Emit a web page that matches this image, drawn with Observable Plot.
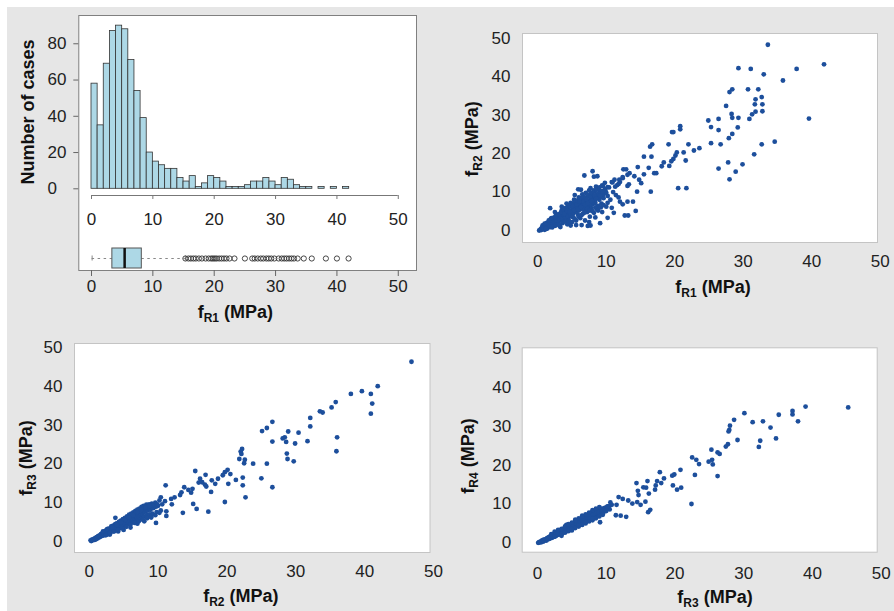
<!DOCTYPE html>
<html><head><meta charset="utf-8">
<script src="https://cdn.jsdelivr.net/npm/d3@7"></script>
<script src="https://cdn.jsdelivr.net/npm/@observablehq/plot@0.6"></script>
<style>
html,body{margin:0;padding:0;background:#fff;}
#page{position:relative;width:894px;height:611px;overflow:hidden;font-family:"Liberation Sans",Arial,sans-serif;}
#bg{position:absolute;left:7px;top:7px;right:0;bottom:0;background:#e6e6e6;}
#page svg{position:absolute;left:0;top:0;}
.t{position:absolute;font-weight:bold;font-size:18px;line-height:1;color:#111;white-space:nowrap;transform:translate(-50%,-50%);}
.t.v{transform:translate(-50%,-50%) rotate(-90deg);}
.t sub{font-size:12px;vertical-align:-4px;line-height:0;}
</style></head>
<body><div id="page"><div id="bg"></div></div>
<script>
// ---------- data ----------
const axisTicks = [0, 10, 20, 30, 40, 50];
const histYTicks = [0, 20, 40, 60, 80];
// histogram of fR1, 1 MPa bins starting at 0
const histCounts = [58,35,69,87,90,88,71,54,39,20,15,13,11,11,6,4,7,1,3,7,6,4,1,1,1,2,4,4,6,4,2,6,5,2,1,1,0,1,0,1,0,1];
// boxplot of fR1: lower whisker, Q1, median, Q3, upper whisker
const boxStats = [0.1, 3.4, 5.4, 8.2, 15.3];
const boxOutliers = [15.3,15.8,16.2,16.6,17.0,17.5,18.0,18.6,19.1,19.5,19.8,20.1,20.4,20.8,21.2,21.6,22.0,22.5,23.3,25.0,26.2,26.6,27.1,27.6,28.0,28.5,28.9,29.3,29.8,30.5,31.0,31.4,31.8,32.2,32.6,33.0,33.6,34.6,35.9,38.2,40.0,41.9];

// fR1 (x) vs fR2 (y)
const fr1fr2Dense = [[0.2,0.0],[0.4,0.3],[0.5,0.1],[0.6,0.6],[0.8,0.4],[0.9,1.0],[1.0,0.2],[0.7,1.3],
[1.1,0.7],[1.2,1.4],[1.3,2.0],[1.4,0.5],[1.5,1.1],[1.6,1.7],[1.7,2.4],[1.8,0.9],[1.9,1.5],[1.8,5.8],[1.9,3.0],[2.0,2.1],
[2.1,0.8],[2.2,1.6],[2.3,2.6],[2.4,3.4],[2.5,1.2],[2.6,2.0],[2.7,4.2],[2.8,3.0],[2.9,1.6],[3.0,2.4],[2.5,4.8],
[3.1,3.6],[3.2,1.2],[3.3,4.4],[3.4,2.8],[3.5,5.3],[3.6,1.9],[3.7,3.4],[3.8,4.6],[3.9,2.5],[4.0,5.8],[3.5,6.2],[3.3,0.9],
[4.1,3.2],[4.2,4.4],[4.3,1.6],[4.4,6.6],[4.5,2.8],[4.6,5.2],[4.7,3.8],[4.8,7.2],[4.9,4.6],[5.0,2.2],[4.5,6.0],[4.2,7.0],[4.8,1.3],
[5.1,5.8],[5.2,3.4],[5.3,8.0],[5.4,4.8],[5.5,6.6],[5.6,2.6],[5.7,7.4],[5.8,5.2],[5.9,4.0],[6.0,8.6],[5.4,9.2],[5.6,1.4],[5.2,7.0],[5.8,6.2],
[6.1,6.8],[6.2,3.2],[6.3,7.8],[6.4,5.6],[6.5,9.4],[6.6,4.4],[6.7,8.2],[6.8,6.2],[6.9,2.6],[7.0,9.8],[6.4,1.4],[6.3,10.6],[6.6,7.2],[6.9,5.0],
[7.1,7.4],[7.2,4.8],[7.3,8.8],[7.4,6.4],[7.5,10.4],[7.6,3.6],[7.7,8.0],[7.8,5.8],[7.9,9.4],[8.0,6.8],[7.3,1.2],[7.7,11.0],[7.5,2.2],
[8.1,8.2],[8.2,4.6],[8.3,10.2],[8.4,7.2],[8.5,11.4],[8.6,5.6],[8.7,9.0],[8.8,6.4],[8.9,10.8],[9.0,8.0],[8.4,3.4],
[9.2,9.6],[9.3,7.0],[9.5,11.6],[9.6,8.4],[9.8,12.4],[9.9,10.2],[10.0,6.2],[9.4,4.8],
[10.2,9.0],[10.4,11.2],[10.6,8.0],[10.8,12.6],[11.0,10.0],[11.2,13.2],[11.4,9.2],[11.6,11.8],[12.0,12.6],[12.4,13.6],[11.8,8.6],
[0.5,0.5],[0.7,0.8],[0.9,0.6],[1.1,1.3],[1.3,1.0],[1.5,1.5],[1.7,1.2],[1.9,2.0],[2.1,1.9],[2.2,2.4],[2.4,2.2],[2.6,2.8],[2.8,2.4],[3.0,3.2],[3.2,2.9],[3.4,3.6],[3.6,3.0],[3.8,4.0],[4.0,3.5],[4.2,4.2],[4.4,3.8],[4.6,4.6],[4.8,4.0],[5.0,5.0],[5.2,4.4],[5.4,5.6],[5.6,4.8],[5.8,6.0],[6.0,5.2],[6.2,6.4],[6.4,5.8],[6.6,6.8],[6.8,6.0],[7.0,7.2],[7.2,6.4],[7.4,7.6],[7.6,6.8],[7.8,8.2],[8.0,7.4],[8.2,8.8],[8.4,8.0],[8.6,9.4],[8.8,8.6],[9.0,9.8],[9.2,8.8],[9.4,10.2],[9.6,9.4],[9.8,10.8],[10.0,9.8],
[1.0,1.8],[1.6,2.6],[2.0,3.2],[2.6,3.6],[3.0,4.2],[3.4,4.8],[3.8,5.4],[4.2,5.8],[4.6,6.4],[5.0,6.8],[5.4,7.4],[5.8,7.8],[6.2,8.4],[6.6,8.8],[7.0,8.6],[7.4,9.2],[7.8,9.8],[8.2,10.4],[8.6,10.6],[9.0,11.2],
[1.2,0.4],[2.0,1.0],[2.6,1.4],[3.0,1.6],[3.6,2.2],[4.0,2.4],[4.6,2.2],[5.0,3.6],[5.4,3.0],[6.0,3.6],[6.4,4.0],[6.8,4.6],[7.2,5.6],[7.6,5.2],[8.0,5.0],[8.4,6.0],[8.8,5.2],[9.2,6.0],[9.6,6.6],[10.2,7.2],
[3.9,4.3],[4.3,5.1],[4.7,4.9],[5.1,6.3],[5.3,5.3],[5.7,6.7],[5.9,5.5],[6.1,7.5],[6.3,6.1],[6.7,7.5],[6.9,6.7],[7.1,8.1],[7.3,7.1],[7.7,8.7],[7.9,7.7],[8.3,9.1],[8.5,8.3],[8.9,9.5],[9.1,9.1],[9.5,10.1]];
const fr1fr2Sparse = [[33.6,48.3],[29.3,42.2],[31.1,42.0],[33.0,40.6],[37.8,42.0],[41.8,43.2],[35.8,39.0],[28.4,36.7],[28.0,36.0],[30.7,36.7],[32.2,36.7],[32.7,34.7],[31.8,34.1],[32.8,32.8],[31.7,32.8],[27.5,32.4],[32.8,31.0],[31.8,30.9],[28.3,30.3],[28.4,29.3],[29.3,29.3],[31.3,30.2],[30.9,29.0],[39.6,29.1],[24.9,28.6],[26.4,29.0],[25.3,26.9],[26.4,26.1],[29.2,26.8],[28.4,25.1],[27.9,24.0],[25.3,22.7],[26.7,22.4],[32.7,22.4],[34.6,23.1],[31.6,19.8],[29.9,17.2],[27.8,17.7],[26.4,16.1],[28.9,15.3],[28.0,13.3],
[20.8,27.1],[20.8,26.3],[19.6,25.6],[19.8,25.6],[19.1,22.4],[22.0,22.4],[23.6,21.4],[22.8,20.8],[16.7,22.4],[16.4,21.8],[15.5,19.2],[16.6,19.2],[20.3,20.3],[20.1,19.5],[19.8,18.6],[19.5,18.0],[21.3,20.3],[21.6,18.2],[18.4,17.7],[18.1,16.7],[19.2,16.8],[16.2,16.3],[17.0,14.9],[17.3,14.9],[20.5,11.0],[21.7,11.0],[16.5,10.1],
[12.5,15.9],[12.9,15.9],[14.6,16.5],[13.1,14.5],[13.4,14.9],[14.1,14.1],[15.5,14.6],[14.8,13.2],[15.1,12.3],[13.1,11.6],[13.3,12.0],[14.5,10.1],[13.1,7.5],[13.9,7.5],[14.3,5.1],[12.7,3.9],[13.2,3.9],[10.8,5.9],[11.1,4.6],[12.0,7.5],[12.4,6.8],[10.2,3.3],[9.1,1.9],[7.7,1.3],[6.8,14.3],[8.0,15.4],[8.7,14.1],[8.2,14.0],[5.9,10.7],[11.9,13.2],[11.8,12.1],[10.9,12.5],[11.3,11.4],[9.4,11.7],[10.2,11.3],[12.4,13.9]];

// fR2 (x) vs fR3 (y)
const fr2fr3Dense = [[0.3,0.1],[0.5,0.3],[0.6,0.6],[0.8,0.4],[0.9,0.9],[1.0,0.6],[1.1,1.1],[1.2,0.8],[1.3,1.4],[1.4,1.0],[1.5,1.6],[1.6,1.2],[1.7,1.9],[1.8,1.4],[1.9,2.1],[2.0,1.5],[2.1,2.4],[2.2,1.8],[2.3,2.7],[2.4,2.0],[2.5,2.9],[2.6,1.8],[2.7,2.5],[2.8,3.3],[2.9,2.2],[3.0,3.0],[3.1,2.4],[3.2,3.6],[3.3,2.8],[3.4,4.0],[3.5,2.6],[3.6,3.4],[3.7,4.3],[3.8,2.9],[3.9,3.8],[4.0,4.7],[4.1,3.2],[4.2,4.2],[4.3,5.0],[4.4,3.4],[4.5,4.4],[4.6,5.4],[4.7,3.8],[4.8,4.8],[4.9,5.8],[5.0,4.0],[5.1,5.2],[5.2,6.1],[5.3,4.3],[5.4,5.5],[5.5,6.5],[5.6,4.4],[5.7,5.8],[5.8,6.9],[5.9,4.8],[6.0,6.1],[6.1,7.2],[6.2,5.0],[6.3,6.4],[6.4,7.5],[6.5,5.2],[6.6,6.6],[6.7,7.9],[6.8,5.4],[6.9,7.0],[7.0,8.2],[7.1,5.8],[7.2,7.2],[7.3,8.5],[7.4,6.0],[7.5,7.5],[7.6,8.9],[7.7,6.2],[7.8,7.8],[7.9,9.2],[8.0,6.5],[8.2,8.2],[8.3,9.5],[8.4,6.8],[8.6,8.5],[8.7,9.6],[8.8,7.0],[9.0,8.6],[9.1,9.8],[9.2,7.2],[9.4,8.8],[9.6,10.0],[9.8,7.6],[10.0,9.2],[10.2,10.6],[10.4,8.0],[10.6,9.6],[11.0,10.4],[6.0,3.6],[7.0,4.6],[8.0,5.2],[5.0,3.0],[4.2,2.6],[9.0,6.4],[3.0,1.8],
[0.2,0.3],[0.4,0.5],[0.7,0.7],[0.9,0.7],[1.1,0.9],[1.3,1.2],[1.5,1.3],[1.7,1.6],[1.9,1.7],[2.1,2.0],[2.3,2.2],[2.5,2.4],[2.7,2.8],[2.9,2.7],[3.1,3.1],[3.3,3.3],[3.5,3.4],[3.7,3.6],[3.9,3.5],[4.1,4.0],[4.3,4.1],[4.5,4.2],[4.7,4.6],[4.9,4.5],[5.1,4.8],[5.3,5.0],[5.5,5.2],[5.7,5.4],[5.9,5.6],[6.1,5.8],[6.3,5.9],[6.5,6.2],[6.7,6.4],[6.9,6.4],[7.1,6.8],[7.3,6.9],[7.5,7.1],[7.7,7.3],[7.9,7.6],[8.1,7.7],[8.3,8.0],[8.5,8.0],[8.7,8.4],[8.9,8.2],[9.1,8.8],[9.3,8.6],[9.5,9.2],[9.7,9.0],[9.9,9.6],
[2.0,2.6],[2.6,3.2],[3.2,3.9],[3.8,4.5],[4.4,5.1],[5.0,5.7],[5.6,6.3],[6.2,6.8],[6.8,7.4],[7.4,7.9],[8.0,8.6],[8.6,9.1],[9.2,9.4],
[2.4,1.6],[3.0,2.2],[3.6,2.6],[4.2,3.0],[4.8,3.4],[5.4,3.8],[6.0,4.4],[6.6,4.8],[7.2,5.2],[7.8,5.6],[8.4,6.0],[9.0,6.2],[9.6,6.8],[10.2,7.4],
[5.2,5.6],[5.8,6.2],[6.4,6.8],[7.0,7.6],[7.6,8.2],[8.2,8.8],[8.8,9.2],[4.6,5.0],[4.0,4.3],[3.4,3.7]];
const fr2fr3Sparse = [[46.8,46.4],[41.9,40.1],[39.6,38.8],[38.0,38.1],[40.9,38.1],[41.1,35.6],[40.9,33.0],[35.8,36.0],[35.2,34.6],[33.9,33.3],[33.5,33.6],[32.1,31.9],[32.1,29.7],[31.7,25.9],[36.0,26.9],[35.9,23.3],[30.4,28.1],[28.9,28.4],[28.4,26.9],[28.1,26.6],[28.6,25.7],[29.9,25.3],[28.7,22.7],[28.8,21.3],[29.7,20.7],[26.6,30.9],[25.8,29.3],[25.1,28.5],[26.6,25.8],[25.8,20.1],[26.6,14.0],[25.0,16.3],
[22.2,23.9],[22.0,23.2],[22.1,22.6],[21.8,21.3],[22.6,21.1],[22.5,20.2],[23.8,20.1],[22.3,16.5],[22.3,14.5],[22.7,11.4],[20.1,18.5],[19.7,17.9],[20.5,17.4],[19.4,17.1],[21.3,15.9],[20.2,14.9],[19.7,10.2],[18.7,16.2],[18.3,14.9],[17.8,15.8],[17.7,12.8],[17.0,14.2],[16.8,14.7],[16.9,17.2],[15.4,18.2],[16.1,16.2],[15.9,15.2],[16.4,15.3],[15.0,13.6],[14.4,13.3],[14.8,12.6],[15.1,9.7],[15.6,8.4],[17.3,7.7],[13.6,7.4],[13.8,14.0],[13.4,12.7],[13.2,12.0],[11.1,14.5],[12.4,11.4],[11.9,11.0],[10.4,11.4],[3.8,6.1],[11.2,6.6],[11.2,7.8],[9.7,4.8],[12.0,9.6]];

// fR3 (x) vs fR4 (y)
const fr3fr4Dense = [[0.1,0],[0.3,0.2],[0.5,0.1],[0.6,0.5],[0.8,0.3],[0.9,0.8],[1.0,0.5],[1.2,0.9],[1.3,0.6],[1.4,1.2],[1.5,0.9],[1.6,1.4],[1.7,1.0],[1.8,1.6],[1.9,1.2],[2.0,1.8],[2.1,1.3],[2.2,2.0],[2.3,1.5],[2.4,2.2],[2.5,1.6],[2.6,2.4],[2.7,1.8],[2.8,2.6],[2.9,2.0],[3.0,2.8],[3.1,2.1],[3.2,3.0],[3.3,2.3],[3.4,3.2],[3.5,2.5],[3.6,3.4],[3.7,2.6],[3.8,3.6],[3.9,2.8],[4.0,3.7],[4.1,2.9],[4.2,3.9],[4.3,3.1],[4.4,4.1],[4.5,3.3],[4.6,4.3],[4.7,3.5],[4.8,4.5],[4.9,3.7],[5.0,4.7],[5.1,3.9],[5.2,4.9],[5.3,4.1],[5.4,5.1],[5.5,4.3],[5.6,5.3],[5.7,4.5],[5.8,5.6],[5.9,4.7],[6.0,5.8],[6.1,4.8],[6.2,6.0],[6.3,5.0],[6.4,6.2],[6.5,5.2],[6.6,6.4],[6.7,5.4],[6.8,6.6],[6.9,5.6],[7.0,6.8],[7.1,5.8],[7.2,7.0],[7.3,6.0],[7.4,7.2],[7.5,6.2],[7.6,7.4],[7.7,6.4],[7.8,7.6],[7.9,6.6],[8.0,7.9],[8.2,6.8],[8.3,8.1],[8.5,7.0],[8.6,8.3],[8.8,7.3],[9.0,8.5],[9.2,7.5],[9.4,8.8],[9.6,7.8],[9.8,9.0],[10.0,8.2],[10.2,9.3],[10.5,8.6],[10.8,9.8],[3.5,1.8],[5.0,3.2],[6.0,4.2],[7.0,5.0],[8.0,5.8],[4.2,4.6],[5.5,6.0],[6.5,7.0],[2.5,2.9],
[0.2,0.1],[0.4,0.3],[0.7,0.6],[0.9,0.6],[1.1,0.8],[1.3,1.0],[1.5,1.2],[1.7,1.4],[1.9,1.6],[2.1,1.7],[2.3,1.9],[2.5,2.1],[2.7,2.3],[2.9,2.4],[3.1,2.6],[3.3,2.8],[3.5,3.0],[3.7,3.1],[3.9,3.3],[4.1,3.5],[4.3,3.7],[4.5,3.8],[4.7,4.0],[4.9,4.2],[5.1,4.4],[5.3,4.5],[5.5,4.7],[5.7,4.9],[5.9,5.1],[6.1,5.3],[6.3,5.5],[6.5,5.7],[6.7,5.9],[6.9,6.1],[7.1,6.3],[7.3,6.5],[7.5,6.7],[7.7,6.9],[7.9,7.1],[8.1,7.3],[8.3,7.5],[8.5,7.7],[8.7,7.9],[8.9,8.0],[9.1,8.2],[9.3,8.4],[9.5,8.6],[9.7,8.8],[9.9,9.0],[10.1,9.1],[10.4,9.4],
[2.0,2.2],[3.0,3.3],[4.0,4.2],[5.0,5.2],[6.0,6.3],[7.0,7.3],[8.0,8.4],[9.0,9.2],[3.5,3.6],[4.5,4.8],[5.5,5.8],[6.5,6.7],[7.5,7.8],[8.5,8.8],
[2.5,1.6],[3.5,2.3],[4.5,3.0],[5.5,3.8],[6.5,4.6],[7.5,5.5],[8.5,6.3],[9.5,7.2],[4.0,2.6],[5.0,3.5],[6.0,4.5],[7.0,5.3],[8.0,6.2],[9.0,6.8]];
const fr3fr4Sparse = [[45.2,34.9],[39.0,35.1],[37.1,34.0],[37.1,33.1],[37.9,31.3],[35.1,33.0],[33.9,29.7],[34.7,26.9],[32.8,31.3],[31.3,31.1],[30.1,33.4],[32.4,26.3],[32.2,24.7],[29.1,26.5],[28.6,31.7],[28.0,30.2],[27.9,29.1],[27.8,28.7],[27.7,25.4],[27.4,24.8],[26.2,23.3],[26.5,22.9],[25.3,24.0],[26.2,17.2],[25.4,21.4],[24.9,20.9],[25.5,20.2],[22.5,22.0],[23.1,21.4],[23.5,20.3],[22.9,17.5],[22.4,10.0],[20.8,18.8],[19.9,17.6],[19.6,17.3],[20.3,13.7],[20.9,14.2],[19.7,14.8],[18.4,16.6],[17.8,18.2],[18.0,15.4],[17.4,15.9],[17.2,14.8],[17.1,13.7],[16.2,12.7],[16.1,7.9],[16.4,8.5],[16.0,15.9],[15.8,14.2],[15.4,14.3],[14.4,15.4],[14.6,13.4],[14.7,12.3],[15.7,10.6],[15.0,9.8],[14.5,10.5],[12.9,6.7],[12.1,7.0],[11.4,7.1],[9.1,5.3],[11.8,11.8],[12.4,11.3],[13.2,10.9],[13.8,10.1],[10.6,10.4],[10.2,9.4],[11.5,9.8]];

// ---------- drawing ----------
const page = document.getElementById("page");
const W = 894, H = 611;
const FONT = '"Liberation Sans", Arial, sans-serif';
function layer(opts) {
  const svg = Plot.plot({
    width: W, height: H,
    style: {background: "transparent", fontFamily: FONT, fontSize: "17px", color: "#222", overflow: "visible"},
    ...opts
  });
  page.appendChild(svg);
}
function title(html, x, y, vertical) {
  const d = document.createElement("div");
  d.className = "t" + (vertical ? " v" : "");
  d.style.left = x + "px"; d.style.top = y + "px";
  d.innerHTML = html;
  page.appendChild(d);
}

// histogram panel
const histX = [-2.07, 52.97];
const histData = histCounts.map((c, i) => ({x1: i, x2: i + 1, count: c}));
const panelM = {marginLeft: 78.3, marginRight: W - 416};
// frame + bottom axis
layer({...panelM, marginTop: 15, marginBottom: H - 270,
  x: {domain: histX, axis: null}, y: {domain: [0, 1], axis: null},
  marks: [
    Plot.frame({fill: "white", stroke: "#808080"}),
    Plot.axisX({ticks: axisTicks, tickSize: 6, tickPadding: 3, stroke: "#666", label: null})
  ]});
// bars + y axis
layer({...panelM, marginTop: 15, marginBottom: H - 188.3,
  x: {domain: histX, axis: null}, y: {domain: [0, 95.6], axis: null},
  marks: [
    Plot.rectY(histData, {x1: "x1", x2: "x2", y: "count", fill: "#add8e6", stroke: "#333", strokeWidth: 0.8}),
    Plot.axisY({ticks: histYTicks, tickSize: 5, tickPadding: 26.3, textAnchor: "start", stroke: "#666", label: null})
  ]});
// inner x axis
layer({...panelM, marginTop: 15, marginBottom: H - 195,
  x: {domain: histX, axis: null}, y: {domain: [0, 1], axis: null},
  marks: [
    Plot.ruleY([0], {x1: axisTicks[0], x2: axisTicks[axisTicks.length - 1], stroke: "#777"}),
    Plot.axisX({ticks: axisTicks, tickSize: 4, tickPadding: 13, stroke: "#777", label: null})
  ]});
// boxplot
layer({...panelM, marginTop: 247.5, marginBottom: H - 267.5,
  x: {domain: histX, axis: null}, y: {type: "band", domain: ["fR1"], padding: 0, axis: null},
  marks: [
    Plot.ruleY(["fR1"], {x1: boxStats[0], x2: boxStats[1], stroke: "#888", strokeDasharray: "2.5,3.5"}),
    Plot.ruleY(["fR1"], {x1: boxStats[3], x2: boxStats[4], stroke: "#888", strokeDasharray: "2.5,3.5"}),
    Plot.tickX([boxStats[0], boxStats[4]], {x: d => d, y: () => "fR1", insetTop: 7.5, insetBottom: 7.5, stroke: "#888"}),
    Plot.barX([boxStats], {x1: d => d[1], x2: d => d[3], y: () => "fR1", fill: "#add8e6", stroke: "#555"}),
    Plot.tickX([boxStats[2]], {x: d => d, y: () => "fR1", stroke: "#111", strokeWidth: 2.5}),
    Plot.dot(boxOutliers, {x: d => d, y: () => "fR1", r: 2.6, stroke: "#333", strokeWidth: 0.9, fill: "none"})
  ]});
title("Number of cases", 28.3, 111.7, true);
title("f<sub>R1</sub> (MPa)", 235.3, 312);

// scatter panels
function scatter(data, xd, yd, m, padX, padY) {
  layer({marginLeft: m[0], marginRight: W - m[1], marginTop: m[2], marginBottom: H - m[3],
    x: {domain: xd, axis: null}, y: {domain: yd, axis: null},
    marks: [
      Plot.frame({fill: "white", stroke: "#c4c4c4"}),
      Plot.dot(data, {x: d => d[0], y: d => d[1], r: 2.4, fill: "#1d4f9c"}),
      Plot.axisX({ticks: axisTicks, tickSize: 0, tickPadding: padX, label: null}),
      Plot.axisY({ticks: axisTicks, tickSize: 0, tickPadding: padY, label: null})
    ]});
}
scatter([...fr1fr2Dense, ...fr1fr2Sparse], [-2.234, 49.61], [-3.12, 51.22], [522, 877, 33, 242], 12, 12);
scatter([...fr2fr3Dense, ...fr2fr3Sparse], [-2.135, 49.49], [-2.84, 51.11], [74, 429.5, 343, 552], 12, 12);
scatter([...fr3fr4Dense, ...fr3fr4Sparse], [-2.226, 49.42], [-2.42, 50.26], [521.7, 876.7, 347.3, 551.7], 15, 11);

title("f<sub>R1</sub> (MPa)", 713, 287);
title("f<sub>R2</sub> (MPa)", 471.7, 139, true);
title("f<sub>R2</sub> (MPa)", 240.8, 596);
title("f<sub>R3</sub> (MPa)", 25.8, 458, true);
title("f<sub>R3</sub> (MPa)", 715, 597);
title("f<sub>R4</sub> (MPa)", 467.5, 455.8, true);
</script>
</body></html>
